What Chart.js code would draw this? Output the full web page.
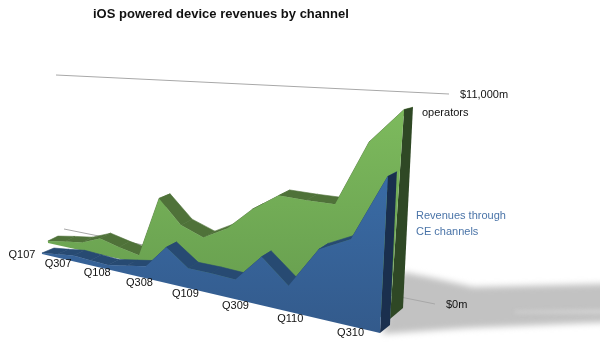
<!DOCTYPE html>
<html>
<head>
<meta charset="utf-8">
<title>iOS powered device revenues by channel</title>
<style>
    html, body { margin: 0; padding: 0; background: #fff; }
    canvas { display: block; }
</style>
<script src="https://cdn.jsdelivr.net/npm/chart.js@4"></script>
</head>
<body>
<canvas id="chart" width="600" height="352"></canvas>
<script>
    const quarters = ['Q107', 'Q207', 'Q307', 'Q407', 'Q108', 'Q208', 'Q308', 'Q408',
        'Q109', 'Q209', 'Q309', 'Q409', 'Q110', 'Q210', 'Q310', 'Q410'];
    const operators = [133, 352, 535, 1040, 740, 495, 4175, 2830, 2330, 3085, 4355, 5290, 5240, 5230, 8415, 10000];
    const ceChannels = [70, 230, 400, 345, 290, 510, 745, 2160, 1175, 1170, 1105, 2615, 1360, 3500, 4225, 7330];
    const quarterLabels = ['Q107', 'Q307', 'Q108', 'Q308', 'Q109', 'Q309', 'Q110', 'Q310'];
    const valueTicks = [0, 11000];
    const valueTickLabels = ['$0m', '$11,000m'];

    // Each plane is the chart area as seen in perspective: bottom-left, bottom-right, top-right, top-left
    const planes = {
        wall: [[64, 229], [435, 304], [449, 94], [56, 75]],
        labels: [[22, 255], [383, 341], [392, 100], [16, 80]],
        greenBack: [[58, 238], [403, 308], [414, 86], [52, 76]],
        greenFront: [[48, 243], [390, 319], [405.6, 87], [41, 74]],
        blueBack: [[54, 249], [390, 325], [400.5, 90], [47, 94]],
        blueFront: [[42, 254], [380, 333], [392, 93], [36, 94]]
    };

    function homography(q) {
        const [[x0, y0], [x1, y1], [x2, y2], [x3, y3]] = q;
        const dx1 = x1 - x2, dx2 = x3 - x2, sx = x0 - x1 + x2 - x3;
        const dy1 = y1 - y2, dy2 = y3 - y2, sy = y0 - y1 + y2 - y3;
        const den = dx1 * dy2 - dx2 * dy1;
        const g = (sx * dy2 - dx2 * sy) / den;
        const h = (dx1 * sy - sx * dy1) / den;
        const a = x1 - x0 + g * x1, b = x3 - x0 + h * x3;
        const d = y1 - y0 + g * y1, e = y3 - y0 + h * y3;
        return (u, v) => {
            const w = g * u + h * v + 1;
            return [(a * u + b * v + x0) / w, (d * u + e * v + y0) / w];
        };
    }

    function tracePath(ctx, pts) {
        ctx.beginPath();
        pts.forEach((p, i) => i ? ctx.lineTo(p[0], p[1]) : ctx.moveTo(p[0], p[1]));
        ctx.closePath();
    }

    function fillPath(ctx, pts, color) {
        tracePath(ctx, pts);
        ctx.fillStyle = color;
        ctx.fill();
    }

    function drawShadow(ctx) {
        ctx.save();
        ctx.filter = 'blur(3px)';
        fillPath(ctx, [[403, 272], [433, 278], [473, 287], [640, 283], [640, 321], [467, 328], [382, 334]], '#c2c2c2');
        ctx.filter = 'blur(2px)';
        fillPath(ctx, [[515, 311], [640, 309], [640, 314], [515, 313]], '#d4d4d4');
        ctx.restore();
    }

    // Front face, top strips and right end of one area, through the scales of the chart
    function drawArea(chart, datasetIndex, front, back, colors) {
        const ctx = chart.ctx;
        const area = chart.chartArea;
        const pts = chart.getDatasetMeta(datasetIndex).data;
        const toUnit = p => [(p.x - area.left) / area.width, (area.bottom - p.y) / area.height];
        const f = homography(planes[front]);
        const b = homography(planes[back]);
        const top = pts.map(p => f(...toUnit(p)));
        const rear = pts.map(p => b(...toUnit(p)));
        ctx.strokeStyle = colors.strip;
        ctx.lineWidth = 0.6;
        for (let i = 0; i < top.length - 1; i++) {
            fillPath(ctx, [top[i], top[i + 1], rear[i + 1], rear[i]], colors.strip);
            ctx.stroke();
        }
        const last = top.length - 1;
        fillPath(ctx, [top[last], rear[last], b(1, 0), f(1, 0)], colors.side);
        const grad = ctx.createLinearGradient(0, 110, 0, 335);
        grad.addColorStop(0, colors.light);
        grad.addColorStop(1, colors.dark);
        fillPath(ctx, [f(0, 0), ...top, f(1, 0)], grad);
    }

    const chart3d = {
        id: 'chart3d',
        beforeDatasetsDraw(chart) {
            const ctx = chart.ctx;
            const area = chart.chartArea;
            const yScale = chart.scales.y;
            const xScale = chart.scales.x;
            const wall = homography(planes.wall);
            const unitY = v => (area.bottom - yScale.getPixelForValue(v)) / area.height;

            drawShadow(ctx);

            ctx.strokeStyle = '#a8a8a8';
            ctx.lineWidth = 1;
            ctx.font = '11px "Liberation Sans"';
            ctx.textBaseline = 'middle';
            ctx.textAlign = 'left';
            ctx.fillStyle = '#111';
            valueTicks.forEach((v, i) => {
                const a = wall(0, unitY(v));
                const c = wall(1, unitY(v));
                ctx.beginPath();
                ctx.moveTo(a[0], a[1]);
                ctx.lineTo(c[0], c[1]);
                ctx.stroke();
                ctx.fillText(valueTickLabels[i], c[0] + 11, c[1] + 1);
            });

            drawArea(chart, 0, 'greenFront', 'greenBack', { strip: '#4f7239', side: '#2f4825', light: '#7dba5d', dark: '#63994c' });
            drawArea(chart, 1, 'blueFront', 'blueBack', { strip: '#274a72', side: '#1a2f4e', light: '#3c72b0', dark: '#335a8b' });

            const labelPlane = homography(planes.labels);
            ctx.textAlign = 'center';
            ctx.fillStyle = '#111';
            quarterLabels.forEach(name => {
                const u = (xScale.getPixelForValue(quarters.indexOf(name)) - area.left) / area.width;
                const p = labelPlane(u, 0);
                ctx.fillText(name, p[0], p[1]);
            });

            ctx.textAlign = 'left';
            ctx.fillText('operators', 422, 113);
            ctx.fillStyle = '#4a74a8';
            ctx.fillText('Revenues through', 416, 216);
            ctx.fillText('CE channels', 416, 232);

            ctx.fillStyle = '#111';
            ctx.font = 'bold 13px "Liberation Sans"';
            ctx.fillText('iOS powered device revenues by channel', 93, 14);
        }
    };

    new Chart(document.getElementById('chart'), {
        type: 'line',
        data: {
            labels: quarters,
            datasets: [
                { label: 'operators', data: operators, showLine: false, pointRadius: 0 },
                { label: 'Revenues through CE channels', data: ceChannels, showLine: false, pointRadius: 0 }
            ]
        },
        options: {
            responsive: false,
            animation: false,
            layout: { padding: 0 },
            plugins: { legend: { display: false }, tooltip: { enabled: false } },
            scales: {
                x: { display: false },
                y: { display: false, min: 0, max: 11000 }
            }
        },
        plugins: [chart3d]
    });
</script>
</body>
</html>
